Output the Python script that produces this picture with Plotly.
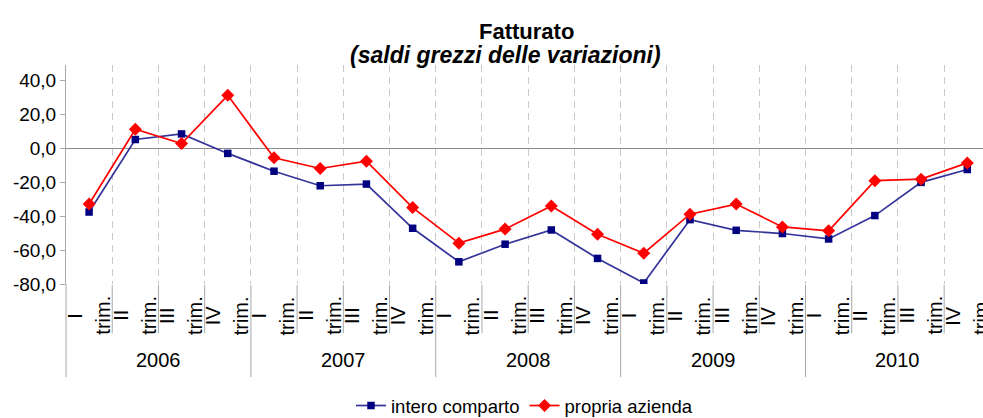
import plotly.graph_objects as go

# ---- data ----
quarters = ["I", "II", "III", "IV"] * 5
quarter_suffix = "trim."
years = ["2006", "2007", "2008", "2009", "2010"]
intero_comparto = [-37.5, 5.3, 8.6, -2.9, -13.4, -22.0, -21.0, -47.1, -66.9, -56.5,
                   -48.1, -64.9, -79.4, -42.0, -48.3, -50.2, -53.4, -39.6, -20.0, -12.4]
propria_azienda = [-32.8, 11.4, 2.9, 31.4, -5.5, -11.8, -7.5, -34.9, -55.9, -47.6,
                   -33.9, -50.6, -61.8, -38.8, -32.8, -46.3, -48.6, -19.0, -18.1, -8.5]
y_tickvals = [-80, -60, -40, -20, 0, 20, 40]
y_ticktext = ["-80,0", "-60,0", "-40,0", "-20,0", "0,0", "20,0", "40,0"]

FONT = "Liberation Sans, Arial, sans-serif"
n = len(quarters)
xs = list(range(n))

fig = go.Figure()
fig.add_trace(go.Scatter(
    x=xs, y=intero_comparto, name="intero comparto", mode="lines+markers",
    line=dict(color="#33339a", width=1.7),
    marker=dict(symbol="square", size=7.5, color="#000080"),
))
fig.add_trace(go.Scatter(
    x=xs, y=propria_azienda, name="propria azienda", mode="lines+markers",
    line=dict(color="#ff0000", width=1.7),
    marker=dict(symbol="diamond", size=10, color="#ff0000"),
))

boundaries = [i + 0.5 for i in range(n - 1)]

shapes = []
axis_grey = "#a8a8a8"
# y-axis extension below the plot
shapes.append(dict(type="line", xref="paper", yref="paper", x0=0, x1=0, y0=0, y1=-0.425,
                   line=dict(color=axis_grey, width=1)))
for b in boundaries:
    is_year = (int(b + 0.5) % 4 == 0)
    shapes.append(dict(type="line", xref="x", yref="paper", x0=b, x1=b, y0=-0.005,
                       y1=(-0.425 if is_year else -0.225),
                       line=dict(color=axis_grey, width=1)))

def ann(**kw):
    base = dict(showarrow=False, xanchor="center", yanchor="middle")
    base.update(kw)
    return base

annotations = []
for i, q in enumerate(quarters):
    annotations.append(ann(x=i, y=-0.144, xref="x", yref="paper", text=q,
                           textangle=-90, xshift=-15, font=dict(size=20, color="black", family=FONT)))
    annotations.append(ann(x=i, y=-0.144, xref="x", yref="paper", text=quarter_suffix,
                           textangle=-90, xshift=13, font=dict(size=20, color="black", family=FONT)))
for k, yr in enumerate(years):
    annotations.append(ann(x=4 * k + 1.5, y=-0.347, xref="x", yref="paper", text=yr,
                           font=dict(size=20, color="black", family=FONT)))
annotations.append(ann(x=0.5027, y=1.155, xref="paper", yref="paper", text="<b>Fatturato</b>",
                       font=dict(size=22, color="black", family=FONT)))
annotations.append(ann(x=0.479, y=1.046, xref="paper", yref="paper",
                       text="<b><i>(saldi grezzi delle variazioni)</i></b>",
                       font=dict(size=23, color="black", family=FONT)))

fig.update_layout(
    width=983, height=418,
    margin=dict(l=66, r=0, t=65, b=134, autoexpand=False),
    paper_bgcolor="white", plot_bgcolor="white",
    font=dict(family=FONT, size=19, color="black"),
    showlegend=True,
    legend=dict(orientation="h", x=0.5, xanchor="center", y=-0.557, yanchor="middle",
                font=dict(size=18.5), itemwidth=30, tracegroupgap=0),
    xaxis=dict(range=[-0.5, 19.34], tickvals=boundaries, showticklabels=False, ticks="",
               showgrid=True, gridcolor="#c8c8c8", gridwidth=1, griddash="7px,5px",
               zeroline=False, showline=False, fixedrange=True, automargin=False),
    yaxis=dict(range=[-80, 49.3], tickvals=y_tickvals, ticktext=y_ticktext,
               showgrid=False, zeroline=True, zerolinecolor="#8c8c8c", zerolinewidth=1,
               showline=True, linecolor=axis_grey, linewidth=1,
               ticks="outside", ticklen=5, tickcolor=axis_grey,
               tickfont=dict(size=19), fixedrange=True, automargin=False),
    shapes=shapes,
    annotations=annotations,
)

fig.write_html("out.html", config={"displayModeBar": False},
               post_script="document.body.style.margin='0';document.body.style.overflow='hidden';")
